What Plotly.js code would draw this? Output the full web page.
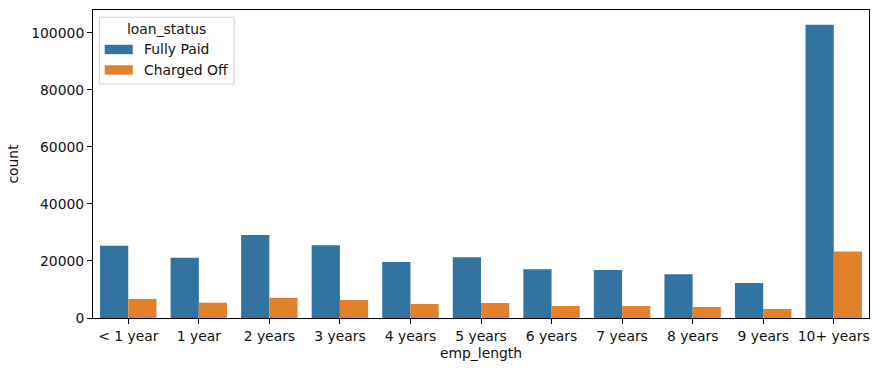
<!DOCTYPE html>
<html>
<head>
<meta charset="utf-8">
<script src="https://cdn.plot.ly/plotly-3.0.1.min.js"></script>
<style>html,body{margin:0;padding:0;background:#fff;}#chart{width:878px;height:371px;}</style>
</head>
<body>
<div id="chart"></div>
<script>
const categories = ["< 1 year", "1 year", "2 years", "3 years", "4 years", "5 years", "6 years", "7 years", "8 years", "9 years", "10+ years"];
const fullyPaid = [25300, 21100, 29100, 25500, 19600, 21300, 17100, 16800, 15350, 12250, 102850];
const chargedOff = [6700, 5350, 7050, 6300, 4900, 5250, 4200, 4200, 3850, 3150, 23350];
const seriesNames = ["Fully Paid", "Charged Off"];
const seriesColors = ["#3274a1", "#e1812c"];
const legendTitle = "loan_status";
const xTitle = "emp_length";
const yTitle = "count";
const yTicks = [0, 20000, 40000, 60000, 80000, 100000];

const W = 878, H = 371;
const M = {l: 93.3, r: 9.3, t: 10, b: 52.7};
const pw = W - M.l - M.r, ph = H - M.t - M.b;
const px = x => (x - M.l) / pw;
const py = y => (H - M.b - y) / ph;

const font = {family: "DejaVu Sans", size: 13.9, color: "#111"};
const ymax = Math.max(...fullyPaid, ...chargedOff) * 1.05;

const traces = [fullyPaid, chargedOff].map((vals, i) => ({
  type: "bar",
  x: categories,
  y: vals,
  name: seriesNames[i],
  marker: {color: seriesColors[i], line: {width: 0}},
  showlegend: false,
  hoverinfo: "x+y+name"
}));

// custom matplotlib-style legend
const shapes = [
  {type: "rect", xref: "paper", yref: "paper", x0: px(99.7), x1: px(234.3), y0: py(84), y1: py(17.3),
   line: {color: "rgba(204,204,204,0.9)", width: 1}, fillcolor: "rgba(255,255,255,0.8)", layer: "above"}
];
const annotations = [
  {xref: "paper", yref: "paper", x: px(166.5), y: py(29.5), text: legendTitle, showarrow: false,
   xanchor: "center", yanchor: "middle", font: font}
];
const rowY = [49.5, 70];
seriesNames.forEach((n, i) => {
  shapes.push({type: "rect", xref: "paper", yref: "paper", x0: px(105), x1: px(133),
    y0: py(rowY[i] + 4.7), y1: py(rowY[i] - 4.7), line: {width: 0}, fillcolor: seriesColors[i], layer: "above"});
  annotations.push({xref: "paper", yref: "paper", x: px(142.5), y: py(rowY[i]), text: n, showarrow: false,
    xanchor: "left", yanchor: "middle", font: font});
});

const layout = {
  width: W, height: H,
  margin: {l: M.l, r: M.r, t: M.t, b: M.b, pad: 0},
  paper_bgcolor: "#fff", plot_bgcolor: "#fff",
  font: font,
  barmode: "group", bargap: 0.2, bargroupgap: 0,
  showlegend: false,
  xaxis: {
    type: "category", range: [-0.5, categories.length - 0.5],
    showgrid: false, zeroline: false,
    showline: true, linecolor: "#000", linewidth: 1, mirror: true,
    ticks: "outside", ticklen: 5, tickwidth: 1, tickcolor: "#000",
    tickfont: font,
    title: {text: xTitle, font: font, standoff: 5}
  },
  yaxis: {
    range: [0, ymax],
    tickvals: yTicks, ticktext: yTicks.map(String),
    showgrid: false, zeroline: false,
    showline: true, linecolor: "#000", linewidth: 1, mirror: true,
    ticks: "outside", ticklen: 5, tickwidth: 1, tickcolor: "#000",
    tickfont: font,
    title: {text: yTitle, font: font, standoff: 9}
  },
  shapes: shapes,
  annotations: annotations
};

Plotly.newPlot("chart", traces, layout, {displayModeBar: false, staticPlot: true});
</script>
</body>
</html>
